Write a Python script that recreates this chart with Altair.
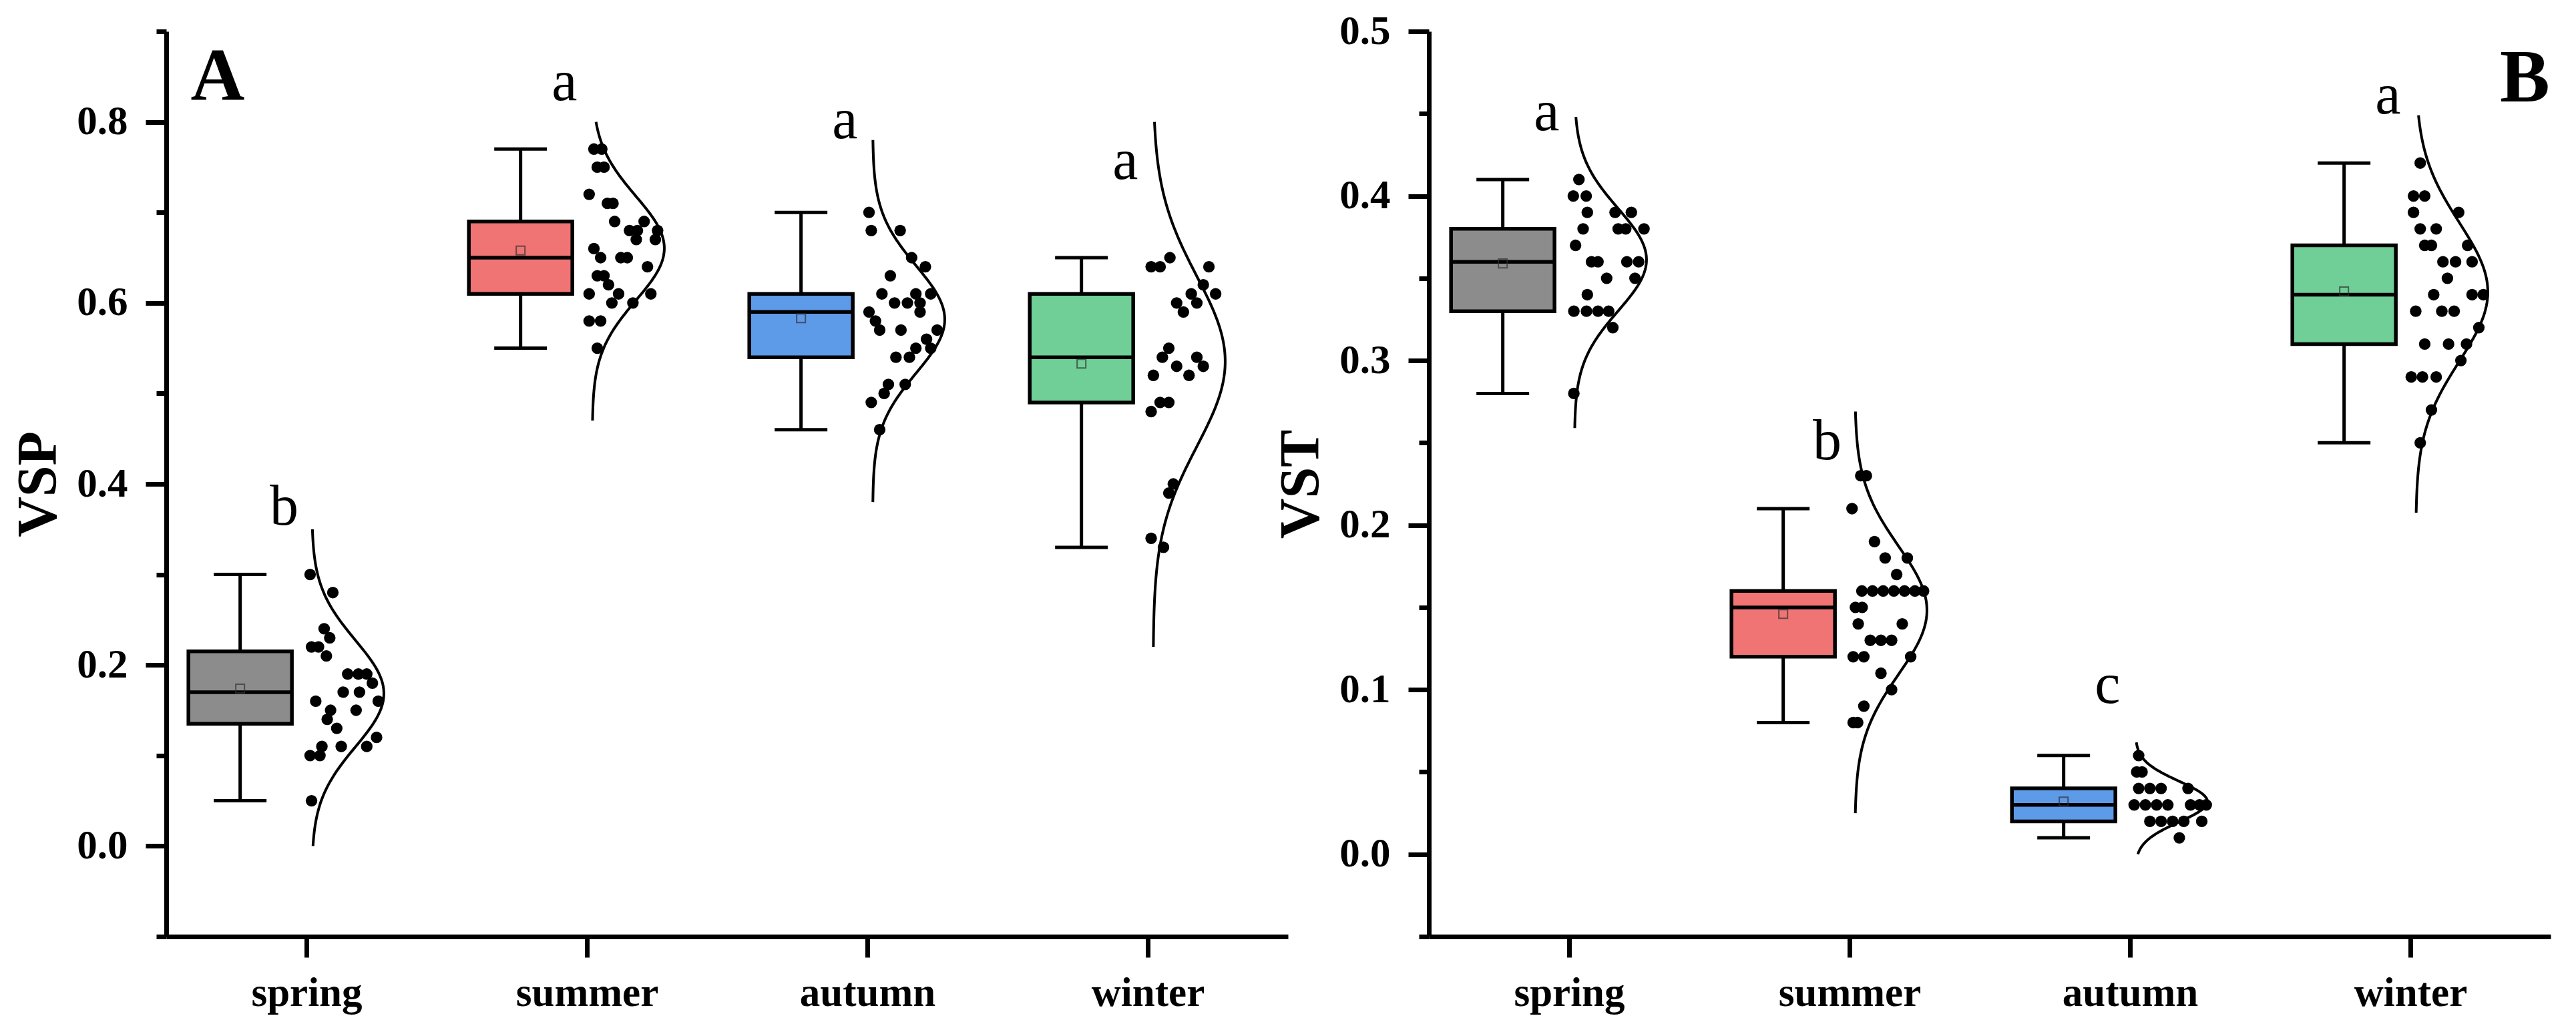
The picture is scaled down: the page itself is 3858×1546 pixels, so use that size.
import altair as alt
import numpy as np
import pandas as pd

seasons = ["spring", "summer", "autumn", "winter"]
box_colors = ["#8C8C8C", "#F07474", "#5D9AE8", "#6FCF97"]

# ---------------- Panel A : VSP ----------------
vsp_ticks = [-0.1, 0.0, 0.1, 0.2, 0.3, 0.4, 0.5, 0.6, 0.7, 0.8, 0.9]
vsp_whisker_low = [0.05, 0.55, 0.46, 0.33]
vsp_q1 = [0.135, 0.61, 0.54, 0.49]
vsp_median = [0.17, 0.65, 0.59, 0.54]
vsp_q3 = [0.215, 0.69, 0.61, 0.61]
vsp_whisker_high = [0.30, 0.77, 0.70, 0.65]
vsp_mean = [0.174, 0.658, 0.583, 0.533]
vsp_curve_low = [0.0, 0.47, 0.38, 0.22]
vsp_curve_high = [0.35, 0.80, 0.78, 0.80]
vsp_letters = ["b", "a", "a", "a"]
vsp_letter_y = [0.355, 0.824, 0.782, 0.737]

vsp_spring = [0.30, 0.28, 0.24, 0.23, 0.22, 0.22, 0.21, 0.19, 0.19, 0.19, 0.18, 0.17, 0.17,
              0.16, 0.16, 0.15, 0.15, 0.14, 0.13, 0.12, 0.11, 0.11, 0.11, 0.10, 0.10, 0.05]
vsp_spring_dx = [0.013, 0.094, 0.063, 0.083, 0.018, 0.043, 0.071, 0.147, 0.185, 0.215, 0.235, 0.131, 0.189,
                 0.033, 0.256, 0.086, 0.177, 0.074, 0.108, 0.25, 0.055, 0.124, 0.215, 0.013, 0.048, 0.018]
vsp_summer = [0.77, 0.77, 0.75, 0.75, 0.72, 0.71, 0.71, 0.69, 0.69, 0.68, 0.68, 0.68, 0.67, 0.67, 0.66,
              0.65, 0.65, 0.65, 0.64, 0.63, 0.63, 0.62, 0.61, 0.61, 0.61, 0.60, 0.60, 0.58, 0.58, 0.55]
vsp_summer_dx = [0.025, 0.053, 0.037, 0.061, 0.008, 0.073, 0.093, 0.099, 0.204, 0.152, 0.180, 0.252, 0.176, 0.244, 0.025,
                 0.049, 0.121, 0.144, 0.216, 0.037, 0.061, 0.077, 0.008, 0.113, 0.228, 0.089, 0.164, 0.008, 0.049, 0.037]
vsp_autumn = [0.70, 0.68, 0.68, 0.65, 0.64, 0.63, 0.61, 0.61, 0.61, 0.60, 0.60, 0.60, 0.59, 0.59,
              0.58, 0.57, 0.57, 0.57, 0.56, 0.55, 0.55, 0.54, 0.54, 0.51, 0.51, 0.50, 0.49, 0.46]
vsp_autumn_dx = [0.006, 0.014, 0.117, 0.158, 0.207, 0.082, 0.052, 0.173, 0.226, 0.097, 0.143, 0.188, 0.006, 0.188,
                 0.029, 0.044, 0.120, 0.249, 0.211, 0.173, 0.226, 0.102, 0.150, 0.075, 0.135, 0.060, 0.014, 0.044]
vsp_winter = [0.65, 0.64, 0.64, 0.64, 0.62, 0.61, 0.61, 0.60, 0.60, 0.59, 0.55, 0.54,
              0.54, 0.53, 0.53, 0.52, 0.52, 0.49, 0.49, 0.48, 0.40, 0.39, 0.34, 0.33]
vsp_winter_dx = [0.079, 0.012, 0.044, 0.218, 0.198, 0.242, 0.155, 0.103, 0.175, 0.127, 0.075, 0.052,
                 0.175, 0.198, 0.103, 0.147, 0.020, 0.044, 0.075, 0.012, 0.091, 0.075, 0.012, 0.056]

# ---------------- Panel B : VST ----------------
vst_ticks = [-0.05, 0.0, 0.05, 0.1, 0.15, 0.2, 0.25, 0.3, 0.35, 0.4, 0.45, 0.5]
vst_whisker_low = [0.28, 0.08, 0.01, 0.25]
vst_q1 = [0.33, 0.12, 0.02, 0.31]
vst_median = [0.36, 0.15, 0.03, 0.34]
vst_q3 = [0.38, 0.16, 0.04, 0.37]
vst_whisker_high = [0.41, 0.21, 0.06, 0.42]
vst_mean = [0.359, 0.146, 0.032, 0.342]
vst_curve_low = [0.259, 0.025, 0.0, 0.2075]
vst_curve_high = [0.448, 0.269, 0.068, 0.449]
vst_letters = ["a", "b", "c", "a"]
vst_letter_y = [0.44, 0.24, 0.092, 0.45]

vst_spring = [0.41, 0.40, 0.40, 0.39, 0.39, 0.39, 0.38, 0.38, 0.38, 0.38, 0.37, 0.36,
              0.36, 0.36, 0.36, 0.35, 0.35, 0.34, 0.33, 0.33, 0.33, 0.33, 0.32, 0.28]
vst_spring_dx = [0.035, 0.015, 0.061, 0.065, 0.164, 0.222, 0.050, 0.175, 0.202, 0.267, 0.023, 0.080,
                 0.103, 0.206, 0.248, 0.134, 0.235, 0.065, 0.017, 0.062, 0.103, 0.141, 0.156, 0.017]
vst_summer = [0.23, 0.23, 0.21, 0.19, 0.18, 0.18, 0.17, 0.16, 0.16, 0.16, 0.16, 0.16, 0.16, 0.16, 0.15,
              0.15, 0.14, 0.14, 0.13, 0.13, 0.13, 0.12, 0.12, 0.12, 0.11, 0.10, 0.09, 0.08, 0.08]
vst_summer_dx = [0.040, 0.060, 0.009, 0.089, 0.127, 0.206, 0.168, 0.044, 0.082, 0.120, 0.158, 0.196, 0.233, 0.264, 0.021,
                 0.045, 0.031, 0.188, 0.074, 0.112, 0.150, 0.013, 0.051, 0.218, 0.112, 0.150, 0.051, 0.013, 0.029]
vst_autumn = [0.06, 0.05, 0.05, 0.04, 0.04, 0.04, 0.04, 0.03, 0.03, 0.03,
              0.03, 0.03, 0.03, 0.03, 0.02, 0.02, 0.02, 0.02, 0.02, 0.01]
vst_autumn_dx = [0.031, 0.024, 0.043, 0.031, 0.071, 0.111, 0.207, 0.015, 0.055, 0.095,
                 0.135, 0.216, 0.248, 0.272, 0.071, 0.111, 0.152, 0.192, 0.256, 0.176]
vst_winter = [0.42, 0.40, 0.40, 0.39, 0.39, 0.38, 0.38, 0.37, 0.37, 0.37, 0.36, 0.36, 0.36, 0.35, 0.34,
              0.34, 0.34, 0.33, 0.33, 0.33, 0.32, 0.31, 0.31, 0.31, 0.30, 0.29, 0.29, 0.29, 0.27, 0.25]
vst_winter_dx = [0.035, 0.011, 0.051, 0.011, 0.172, 0.035, 0.092, 0.051, 0.075, 0.204, 0.116, 0.161, 0.220, 0.132, 0.083,
                 0.220, 0.260, 0.019, 0.112, 0.156, 0.244, 0.051, 0.136, 0.200, 0.180, 0.003, 0.043, 0.092, 0.075, 0.035]

# ---------------- styling constants ----------------
FONT = "Liberation Serif"
BOX_L, BOX_R = -0.421, -0.052
BOX_C = (BOX_L + BOX_R) / 2
CAP_HALF = 0.094
CURVE_BASE, CURVE_W = 0.019, 0.257
LETTER_DX = -0.08
W, H = 1680, 1356


def x_enc(field):
    return alt.X(
        f"{field}:Q",
        scale=alt.Scale(domain=[0.5, 4.5], nice=False, zero=False),
        axis=alt.Axis(
            values=[1, 2, 3, 4],
            labelExpr="['', 'spring', 'summer', 'autumn', 'winter'][datum.value]",
            title=None, tickSize=31, labelPadding=24, labelAngle=0, labelLimit=600,
        ),
    )


def y_enc(field, domain, ticks, minor_test, title):
    return alt.Y(
        f"{field}:Q",
        scale=alt.Scale(domain=domain, nice=False, zero=False),
        axis=alt.Axis(
            values=ticks,
            labelExpr=f"({minor_test}) ? '' : format(datum.value, '.1f')",
            tickSize={"condition": {"test": minor_test, "value": 15}, "value": 31},
            labelPadding=27, title=title, titlePadding=13, labelLimit=600,
        ),
    )


def panel(groups, dxs, wl, q1, med, q3, wh, mean, clo, chi, letters, letter_y,
          domain, ticks, minor_test, title, tag, tag_x, tag_y):
    Y = lambda f: y_enc(f, domain, ticks, minor_test, title)

    box_df = pd.DataFrame({
        "season": seasons, "cat": [1, 2, 3, 4],
        "wl": wl, "q1": q1, "med": med, "q3": q3, "wh": wh, "mean": mean,
        "letter": letters, "ly": letter_y,
    })
    box_base = alt.Chart(box_df).transform_calculate(
        bl=f"datum.cat + ({BOX_L})", br=f"datum.cat + ({BOX_R})", bc=f"datum.cat + ({BOX_C})",
        capl=f"datum.cat + ({BOX_C - CAP_HALF})", capr=f"datum.cat + ({BOX_C + CAP_HALF})",
        lx=f"datum.cat + ({LETTER_DX})",
    )

    pts_rows, curve_rows = [], []
    for i, (vals, dx) in enumerate(zip(groups, dxs)):
        cat = i + 1
        for v, d in zip(vals, dx):
            pts_rows.append({"cat": cat, "pv": v, "dx": d})
        arr = np.array(vals, dtype=float)
        m, s = arr.mean(), arr.std(ddof=1)
        for yv in np.linspace(clo[i], chi[i], 160):
            curve_rows.append({"cat": cat, "cy": float(yv),
                               "dens": float(np.exp(-0.5 * ((yv - m) / s) ** 2))})
    pts_df = pd.DataFrame(pts_rows)
    curve_df = pd.DataFrame(curve_rows)

    whisker = box_base.mark_rule(color="black", strokeWidth=5).encode(
        x=x_enc("bc"), y=Y("wl"), y2="wh")
    cap_hi = box_base.mark_rule(color="black", strokeWidth=5).encode(
        x=x_enc("capl"), x2="capr", y=Y("wh"))
    cap_lo = box_base.mark_rule(color="black", strokeWidth=5).encode(
        x=x_enc("capl"), x2="capr", y=Y("wl"))
    box = box_base.mark_rect(stroke="black", strokeWidth=5.5).encode(
        x=x_enc("bl"), x2="br", y=Y("q1"), y2="q3",
        fill=alt.Fill("season:N", scale=alt.Scale(domain=seasons, range=box_colors), legend=None))
    median = box_base.mark_rule(color="black", strokeWidth=5.5).encode(
        x=x_enc("bl"), x2="br", y=Y("med"))
    mean_pt = box_base.mark_point(shape="square", filled=False, size=170, strokeWidth=2,
                                  color="#333333").encode(x=x_enc("bc"), y=Y("mean"))
    curve = alt.Chart(curve_df).transform_calculate(
        cx=f"datum.cat + {CURVE_BASE} + {CURVE_W} * datum.dens"
    ).mark_line(color="black", strokeWidth=4).encode(
        x=x_enc("cx"), y=Y("cy"), detail="cat:N", order="cy:Q")
    dots = alt.Chart(pts_df).transform_calculate(
        px="datum.cat + datum.dx"
    ).mark_circle(size=300, color="black", opacity=1).encode(x=x_enc("px"), y=Y("pv"))
    sig = box_base.mark_text(font=FONT, fontSize=86, baseline="alphabetic", align="center",
                             color="black").encode(x=x_enc("lx"), y=Y("ly"), text="letter:N")
    tag_df = pd.DataFrame({"tx": [tag_x], "ty": [tag_y], "t": [tag]})
    tag_text = alt.Chart(tag_df).mark_text(font=FONT, fontSize=112, fontWeight="bold",
                                           baseline="alphabetic", align="center", color="black").encode(
        x=x_enc("tx"), y=Y("ty"), text="t:N")

    return alt.layer(whisker, cap_hi, cap_lo, box, median, mean_pt, curve, dots, sig, tag_text
                     ).properties(width=W, height=H)


chart_a = panel(
    [vsp_spring, vsp_summer, vsp_autumn, vsp_winter],
    [vsp_spring_dx, vsp_summer_dx, vsp_autumn_dx, vsp_winter_dx],
    vsp_whisker_low, vsp_q1, vsp_median, vsp_q3, vsp_whisker_high, vsp_mean,
    vsp_curve_low, vsp_curve_high, vsp_letters, vsp_letter_y,
    [-0.1, 0.9], vsp_ticks, "abs(round(datum.value*10)) % 2 == 1", "VSP", "A", 0.683, 0.824)

chart_b = panel(
    [vst_spring, vst_summer, vst_autumn, vst_winter],
    [vst_spring_dx, vst_summer_dx, vst_autumn_dx, vst_winter_dx],
    vst_whisker_low, vst_q1, vst_median, vst_q3, vst_whisker_high, vst_mean,
    vst_curve_low, vst_curve_high, vst_letters, vst_letter_y,
    [-0.05, 0.5], vst_ticks, "abs(round(datum.value*100)) % 10 == 5", "VST", "B", 4.408, 0.4575)

chart = alt.hconcat(chart_a, chart_b, spacing=211, bounds="flush").properties(
    padding={"left": 8, "top": 8, "right": 5, "bottom": 5}
).configure(background="white").configure_view(stroke=None).configure_axis(
    grid=False, domainColor="black", tickColor="black", labelColor="black", titleColor="black",
    domainWidth=7, tickWidth=7, labelFont=FONT, labelFontWeight="bold", labelFontSize=61,
    titleFont=FONT, titleFontWeight="bold", titleFontSize=84,
)

chart.save("out.html", embed_options={"renderer": "svg", "actions": False})
